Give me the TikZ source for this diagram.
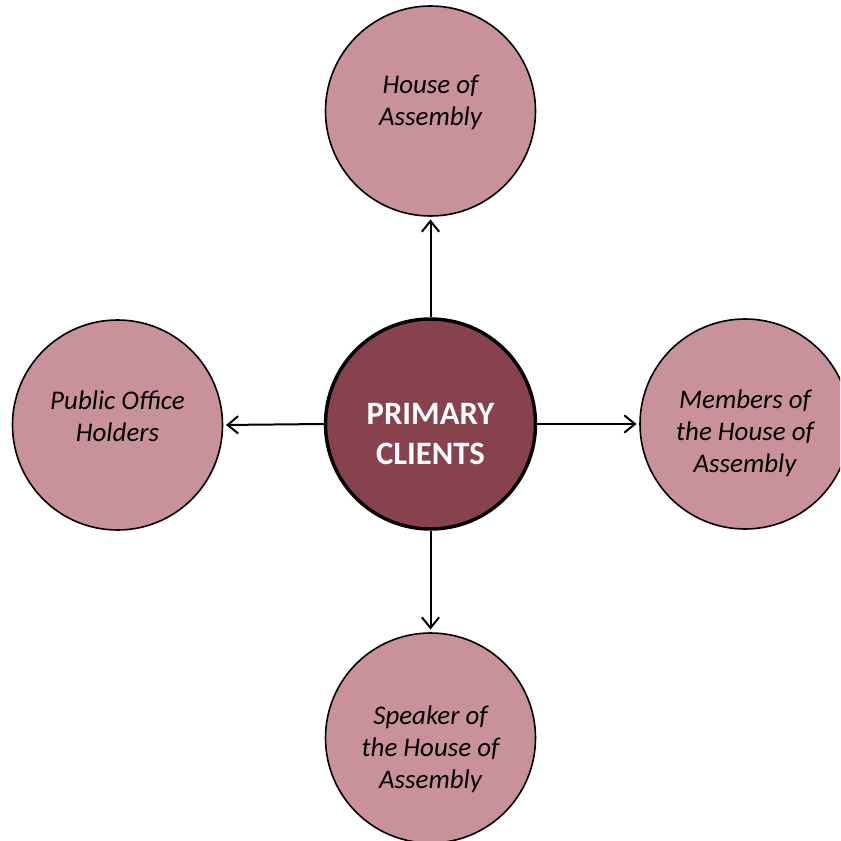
\documentclass[tikz,border=0pt]{standalone}
\usepackage{fontspec}
\setmainfont{Carlito}
\usetikzlibrary{arrows.meta}
\definecolor{pinkfill}{RGB}{201,145,153}
\definecolor{darkfill}{RGB}{135,66,78}
\tikzset{
  outer/.style={circle, draw=black, line width=1.2pt, fill=pinkfill, minimum size=157.5pt, inner sep=0pt},
  inner/.style={circle, draw=black, line width=2.6pt, fill=darkfill, minimum size=157.5pt, inner sep=0pt},
  lbl/.style={align=center, font=\fontsize{20.2}{24}\selectfont\itshape, text=black},
  clbl/.style={align=center, font=\fontsize{24.5}{30}\selectfont\bfseries, text=white},
  conn/.style={line width=1.5pt, shorten >=2pt, -{Straight Barb[length=8pt,width=13pt,line width=1.5pt]}}
}
\begin{document}
\begin{tikzpicture}[x=0.75pt,y=-0.75pt]
\useasboundingbox (0,0) rectangle (840,841);
\clip (0,0) rectangle (840,841);
\node[inner] (c) at (430.5,424) {};
\node[outer] (t) at (430.5,111) {};
\node[outer] (l) at (117.5,425) {};
\node[outer] (r) at (745,424) {};
\node[outer] (b) at (430.5,738) {};
\node[clbl] (ct) at (430.5,434) {PRIMARY\\CLIENTS};
\node[lbl] (tt) at (430.5,102) {House of\\Assembly};
\node[lbl] (lt) at (117.5,416) {Public Office\\Holders};
\node[lbl] (rt) at (745,433) {Members of\\the House of\\Assembly};
\node[lbl] (bt) at (430.5,749) {Speaker of\\the House of\\Assembly};
\draw[conn] (c.north) -- (t.south);
\draw[conn] (c.west) -- (l.east);
\draw[conn] (c.east) -- (r.west);
\draw[conn] (c.south) -- (b.north);
\end{tikzpicture}
\end{document}
